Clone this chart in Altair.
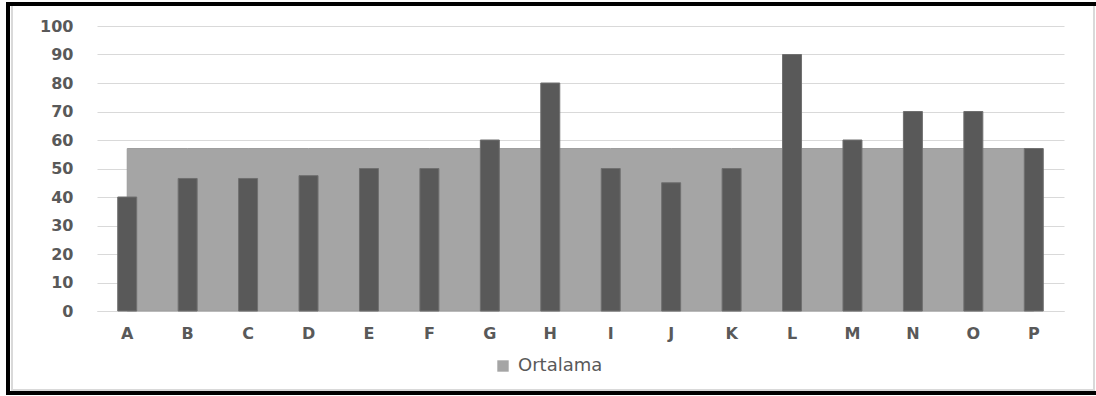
import altair as alt
import pandas as pd

# Categories, bar values and the average (Ortalama) series
categories = ["A", "B", "C", "D", "E", "F", "G", "H", "I", "J", "K", "L", "M", "N", "O", "P"]
values = [40, 46.5, 46.5, 47.5, 50, 50, 60, 80, 50, 45, 50, 90, 60, 70, 70, 57]
average = [57, 57, 57, 57, 57, 57, 57, 57, 57, 57, 57, 57, 57, 57, 57, 57]
y_ticks = [0, 10, 20, 30, 40, 50, 60, 70, 80, 90, 100]
series_name = "Ortalama"

df = pd.DataFrame({
    "cat": categories,
    "value": values,
    "avg": average,
    "series": [series_name] * len(categories),
})

LABEL_GRAY = "#595959"
GRID_GRAY = "#d9d9d9"

x_scale = alt.Scale(domain=categories, paddingInner=0.686, paddingOuter=0.343)
y_scale = alt.Scale(domain=[0, 100])

x_axis = alt.Axis(
    title=None, labelAngle=0, ticks=False, grid=False,
    domainColor=GRID_GRAY, labelPadding=14,
    labelFont="DejaVu Sans", labelFontWeight="bold", labelFontSize=16,
    labelColor=LABEL_GRAY,
)
y_axis = alt.Axis(
    title=None, values=y_ticks, tickCount=11, labelOverlap=False,
    ticks=False, domain=False,
    gridColor=GRID_GRAY, labelPadding=24,
    labelFont="DejaVu Sans", labelFontWeight="bold", labelFontSize=16,
    labelColor=LABEL_GRAY,
)

base = alt.Chart(df)

area = base.mark_area(stroke="#9c9c9c", strokeWidth=1).encode(
    x=alt.X("cat:N", scale=x_scale, axis=x_axis, bandPosition=0.5, sort=categories),
    y=alt.Y("avg:Q", scale=y_scale, axis=y_axis),
    color=alt.Color(
        "series:N",
        scale=alt.Scale(domain=[series_name], range=["#a5a5a5"]),
        legend=alt.Legend(
            title=None, orient="none", legendX=397, legendY=331,
            symbolType="square", symbolSize=130, symbolStrokeWidth=0,
            labelFont="DejaVu Sans", labelFontSize=18, labelColor=LABEL_GRAY,
            labelOffset=6,
        ),
    ),
)

bars = base.mark_bar(color="#595959", stroke="#707070", strokeWidth=1).encode(
    x=alt.X("cat:N", scale=x_scale, axis=x_axis, sort=categories),
    y=alt.Y("value:Q", scale=y_scale, axis=y_axis),
)

# Frame around the whole figure
frame_src = alt.Chart(pd.DataFrame({"k": [0]}))
frame_black = "#000000"
left_edge = frame_src.mark_rule(color=frame_black, strokeWidth=4).encode(
    x=alt.value(-89), y=alt.value(-23), y2=alt.value(369))
top_edge = frame_src.mark_rule(color=frame_black, strokeWidth=4).encode(
    x=alt.value(-91), x2=alt.value(1000), y=alt.value(-22))
bottom_edge = frame_src.mark_rule(color=frame_black, strokeWidth=4).encode(
    x=alt.value(-91), x2=alt.value(1000), y=alt.value(367))
inner_left = frame_src.mark_rule(color="#d9d9d9", strokeWidth=2).encode(
    x=alt.value(-85), y=alt.value(-20), y2=alt.value(365))
inner_right = frame_src.mark_rule(color="#d9d9d9", strokeWidth=2).encode(
    x=alt.value(997), y=alt.value(-20), y2=alt.value(365))
inner_bottom = frame_src.mark_rule(color="#d9d9d9", strokeWidth=2).encode(
    x=alt.value(-85), x2=alt.value(997), y=alt.value(364))

chart = alt.layer(
    area, bars, inner_left, inner_right, inner_bottom, left_edge, top_edge, bottom_edge
).properties(
    width=967, height=285,
    padding={"left": 97, "top": 26, "right": 32, "bottom": 85},
    autosize=alt.AutoSizeParams(type="none"),
    background="white",
).configure_view(stroke=None)

chart.save("out.html", embed_options={"renderer": "svg", "actions": False})
